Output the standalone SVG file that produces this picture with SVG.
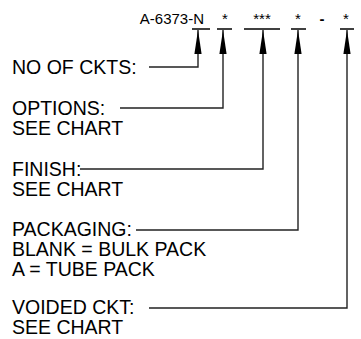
<svg xmlns="http://www.w3.org/2000/svg" width="361" height="339" viewBox="0 0 361 339">
<style>
text{font-family:"Liberation Sans",Arial,sans-serif;fill:#000}
.lbl{font-size:19.5px}
.pn{font-size:15px}
.ln{stroke:#222;stroke-width:1.4;fill:none}
.ul{stroke:#000;stroke-width:1.5}
.ah{fill:#000}
</style>
<defs>
<polygon id="head" points="0,0 -3.6,24 3.6,24" class="ah"/>
</defs>
<g id="partnumber">
<text class="pn" x="204" y="24" text-anchor="end">A-6373-N</text>
<text class="pn" x="225" y="24" text-anchor="middle">*</text>
<text class="pn" x="262" y="24" text-anchor="middle">***</text>
<text class="pn" x="298" y="24" text-anchor="middle">*</text>
<text class="pn" x="322" y="24" text-anchor="middle" font-weight="bold">-</text>
<text class="pn" x="346" y="24" text-anchor="middle">*</text>
<line class="ul" x1="192" y1="29" x2="210" y2="29"/>
<line class="ul" x1="217" y1="29" x2="232" y2="29"/>
<line class="ul" x1="244" y1="29" x2="280" y2="29"/>
<line class="ul" x1="291" y1="29" x2="306" y2="29"/>
<line class="ul" x1="340" y1="29" x2="354" y2="29"/>
</g>
<g id="n-ckts"><text class="lbl" x="12" y="74">NO OF CKTS:</text></g>
<g id="options"><text class="lbl" x="12" y="115">OPTIONS:</text><text class="lbl" x="12" y="135">SEE CHART</text></g>
<g id="finish"><text class="lbl" x="12" y="176">FINISH:</text><text class="lbl" x="12" y="196">SEE CHART</text></g>
<g id="packaging"><text class="lbl" x="12" y="236">PACKAGING:</text><text class="lbl" x="12" y="256">BLANK = BULK PACK</text><text class="lbl" x="12" y="276">A = TUBE PACK</text></g>
<g id="voided"><text class="lbl" x="12" y="314">VOIDED CKT:</text><text class="lbl" x="12" y="334">SEE CHART</text></g>
<g id="connectors">
<polyline class="ln" points="149,67 198,67 198,30"/>
<polyline class="ln" points="120,108 223,108 223,30"/>
<polyline class="ln" points="80,169 263,169 263,30"/>
<polyline class="ln" points="136,230 298,230 298,30"/>
<polyline class="ln" points="149,308 347,308 347,30"/>
<use href="#head" x="198" y="30"/>
<use href="#head" x="223" y="30"/>
<use href="#head" x="263" y="30"/>
<use href="#head" x="298" y="30"/>
<use href="#head" x="347" y="30"/>
</g>
</svg>
